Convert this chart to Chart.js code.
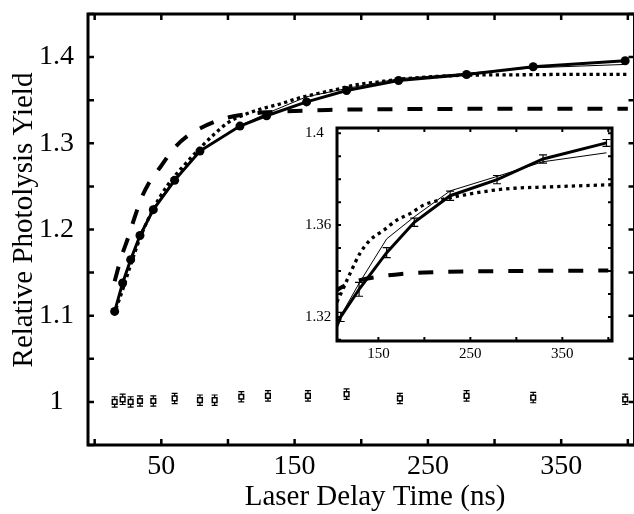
<!DOCTYPE html>
<html>
<head>
<meta charset="utf-8">
<script src="https://cdn.jsdelivr.net/npm/chart.js@4.4.1/dist/chart.umd.min.js"></script>
<style>
  html, body { margin:0; padding:0; background:#fff; overflow:hidden; }
  #wrap { position:relative; width:640px; height:514px; }
  #main { position:absolute; left:0; top:0; }
  #inset { position:absolute; left:290px; top:120px; }
</style>
</head>
<body>
<div id="wrap">
  <canvas id="main" width="640" height="514"></canvas>
  <canvas id="inset" width="330" height="252"></canvas>
</div>
<script>
// pump-probe data (filled circles), delay in ns
const delay     = [15, 21, 27, 34, 44, 60, 79, 109, 129, 159, 189, 228, 279, 329, 398];
const yieldPump = [1.105, 1.138, 1.165, 1.193, 1.223, 1.257, 1.291, 1.320, 1.332, 1.348, 1.3612, 1.3728, 1.3798, 1.3888, 1.3958];
const yieldErr  = [0.002, 0.002, 0.002, 0.002, 0.002, 0.002, 0.002, 0.002, 0.003, 0.0022, 0.0018, 0.002, 0.0018, 0.0018, 0.0015];
// thin model line, same delays
const modelThin = [1.105, 1.139, 1.167, 1.194, 1.225, 1.259, 1.292, 1.3205, 1.3346, 1.354, 1.3636, 1.3749, 1.3812, 1.3876, 1.3915];

// control, no pump (open squares)
const ctrlDelay = [15, 21, 27, 34, 44, 60, 79, 90, 110, 130, 160, 189, 229, 279, 329, 398];
const ctrlYield = [1.000, 1.003, 1.000, 1.001, 1.001, 1.004, 1.002, 1.002, 1.006, 1.007, 1.007, 1.009, 1.004, 1.007, 1.005, 1.003];
const ctrlErr   = [0.006, 0.006, 0.006, 0.006, 0.006, 0.006, 0.006, 0.006, 0.006, 0.006, 0.006, 0.006, 0.006, 0.006, 0.006, 0.006];

// dotted fit
const dotX = [16, 21, 27, 34, 44, 55, 68, 80, 90, 100, 112, 125, 140, 152, 165, 180, 195, 212, 230, 250, 280, 320, 360, 400];
const dotY = [1.108, 1.130, 1.159, 1.190, 1.224, 1.252, 1.276, 1.296, 1.311, 1.324, 1.333, 1.340, 1.346, 1.352, 1.357, 1.362, 1.3675, 1.371, 1.3745, 1.377, 1.379, 1.3795, 1.380, 1.380];
// dotted fit as read in the inset
const insetDotX = [105, 109, 120, 130, 141, 156, 170, 185, 199, 217, 243, 286, 340, 404];
const insetDotY = [1.3265, 1.330, 1.3396, 1.3477, 1.3535, 1.3578, 1.3622, 1.3651, 1.3687, 1.3709, 1.3731, 1.3757, 1.3767, 1.3776];

// dashed fit
const dashX = [15, 20, 25, 30, 35, 40, 50, 60, 70, 80, 90, 100, 115, 130, 150, 175, 200, 250, 300, 400];
const dashY = [1.140, 1.168, 1.190, 1.214, 1.236, 1.252, 1.274, 1.295, 1.309, 1.318, 1.325, 1.330, 1.334, 1.336, 1.3375, 1.3387, 1.3393, 1.3398, 1.340, 1.3402];

// axes
const mainXTicks  = [0, 50, 100, 150, 200, 250, 300, 350, 400];
const mainXLabels = [50, 150, 250, 350];
const mainYTicks  = [0.95, 1, 1.05, 1.1, 1.15, 1.2, 1.25, 1.3, 1.35, 1.4, 1.45];
const mainYLabels = [1, 1.1, 1.2, 1.3, 1.4];
const insetXTicks  = [150, 200, 250, 300, 350, 400];
const insetXLabels = [150, 250, 350];
const insetYTicks  = [1.31, 1.32, 1.33, 1.34, 1.35, 1.36, 1.37, 1.38, 1.39, 1.40];
const insetYLabels = [1.32, 1.36, 1.4];

const FONT = '"Liberation Serif", "Times New Roman", serif';

function pts(xs, ys){ return xs.map((x, i) => ({ x: x, y: ys[i] })); }
function setTicks(list){ return function(s){ s.ticks = list.map(v => ({ value: v })); }; }
function labelIf(list){ return function(v){ return list.some(l => Math.abs(l - v) < 1e-6) ? String(+v.toFixed(2)) : ''; }; }
// fixed axis size, and no extra room for half labels at the ends
function fitTo(prop, size){
  return function(s){ s[prop] = size; s.paddingTop = 0; s.paddingBottom = 0; s.paddingLeft = 0; s.paddingRight = 0; };
}

// frame + inward tick marks on all four sides
const framePlugin = {
  id: 'frame',
  afterDatasetsDraw(chart, args, o){
    const ctx = chart.ctx, a = chart.chartArea, x = chart.scales.x, y = chart.scales.y;
    ctx.save();
    ctx.strokeStyle = '#000';
    ctx.lineWidth = o.tickWidth;
    ctx.beginPath();
    x.ticks.forEach(t => {
      const px = x.getPixelForValue(t.value);
      ctx.moveTo(px, a.bottom); ctx.lineTo(px, a.bottom - o.tickLen);
      ctx.moveTo(px, a.top); ctx.lineTo(px, a.top + o.tickLen);
    });
    y.ticks.forEach(t => {
      const py = y.getPixelForValue(t.value);
      ctx.moveTo(a.left, py); ctx.lineTo(a.left + o.tickLen, py);
      ctx.moveTo(a.right, py); ctx.lineTo(a.right - o.tickLen, py);
    });
    ctx.stroke();
    ctx.lineWidth = o.width;
    ctx.strokeRect(a.left, a.top, a.right - a.left, a.bottom - a.top);
    ctx.restore();
  }
};

// error bars for datasets carrying an errors array
const errorBarPlugin = {
  id: 'errorBars',
  beforeDatasetsDraw(chart, args, o){
    const ctx = chart.ctx, a = chart.chartArea, x = chart.scales.x, y = chart.scales.y;
    ctx.save();
    ctx.beginPath(); ctx.rect(a.left, a.top, a.right - a.left, a.bottom - a.top); ctx.clip();
    ctx.strokeStyle = '#000';
    chart.data.datasets.forEach(ds => {
      if(!ds.errors) return;
      ctx.lineWidth = ds.errorWidth || 1;
      const cap = ds.errorCap || 3;
      ctx.beginPath();
      ds.data.forEach((p, i) => {
        const px = x.getPixelForValue(p.x);
        const y1 = y.getPixelForValue(p.y + ds.errors[i]), y2 = y.getPixelForValue(p.y - ds.errors[i]);
        ctx.moveTo(px, y1); ctx.lineTo(px, y2);
        ctx.moveTo(px - cap, y1); ctx.lineTo(px + cap, y1);
        ctx.moveTo(px - cap, y2); ctx.lineTo(px + cap, y2);
      });
      ctx.stroke();
    });
    ctx.restore();
  }
};

const axisTitlePlugin = {
  id: 'axisTitles',
  afterDraw(chart, args, o){
    const ctx = chart.ctx;
    ctx.save();
    ctx.fillStyle = '#000';
    ctx.font = o.size + 'px ' + FONT;
    ctx.textAlign = 'center';
    ctx.textBaseline = 'middle';
    ctx.fillText(o.xText, o.xPos[0], o.xPos[1]);
    ctx.translate(o.yPos[0], o.yPos[1]);
    ctx.rotate(-Math.PI / 2);
    ctx.fillText(o.yText, 0, 0);
    ctx.restore();
  }
};

const whiteAreaPlugin = {
  id: 'whiteArea',
  beforeDraw(chart){
    const a = chart.chartArea, ctx = chart.ctx;
    ctx.save(); ctx.fillStyle = '#fff';
    ctx.fillRect(a.left, a.top, a.right - a.left, a.bottom - a.top);
    ctx.restore();
  }
};

const lineBase = { showLine: true, pointRadius: 0, borderColor: '#000', fill: false, borderCapStyle: 'butt' };

new Chart(document.getElementById('main'), {
  type: 'scatter',
  data: { datasets: [
    Object.assign({}, lineBase, { data: pts(delay, yieldPump), borderWidth: 3, pointRadius: 4.5,
      pointBackgroundColor: '#000', pointBorderColor: '#000', pointBorderWidth: 0 }),
    Object.assign({}, lineBase, { data: pts(delay, modelThin), borderWidth: 1 }),
    { data: pts(ctrlDelay, ctrlYield), errors: ctrlErr, errorCap: 3, errorWidth: 1.2, showLine: false,
      pointStyle: 'rect', pointRadius: 3.3, pointBackgroundColor: '#fff', pointBorderColor: '#000', pointBorderWidth: 1.5 },
    Object.assign({}, lineBase, { data: pts(dotX, dotY), borderWidth: 3.3, borderDash: [3.3, 3.4], cubicInterpolationMode: 'monotone' }),
    Object.assign({}, lineBase, { data: pts(dashX, dashY), borderWidth: 4, borderDash: [15, 15], cubicInterpolationMode: 'monotone' })
  ]},
  options: {
    responsive: false, animation: false,
    layout: { padding: { left: 0, top: 14, right: 3, bottom: 0 } },
    plugins: {
      legend: { display: false }, tooltip: { enabled: false },
      frame: { width: 3, tickLen: 6, tickWidth: 2.5 },
      axisTitles: { size: 29, xText: 'Laser Delay Time (ns)', xPos: [375, 497],
                    yText: 'Relative Photolysis Yield', yPos: [24, 220] }
    },
    scales: {
      x: { type: 'linear', min: -5, max: 405, afterBuildTicks: setTicks(mainXTicks),
           afterFit: fitTo('height', 69),
           grid: { display: false }, border: { display: false },
           ticks: { callback: labelIf(mainXLabels), autoSkip: false, maxRotation: 0, color: '#000',
                    padding: -3, font: { family: FONT, size: 28 } } },
      y: { min: 0.95, max: 1.45, afterBuildTicks: setTicks(mainYTicks),
           afterFit: fitTo('width', 88),
           grid: { display: false }, border: { display: false },
           ticks: { callback: labelIf(mainYLabels), autoSkip: false, color: '#000', crossAlign: 'center',
                    padding: 6, font: { family: FONT, size: 28 } } }
    }
  },
  plugins: [errorBarPlugin, framePlugin, axisTitlePlugin]
});

new Chart(document.getElementById('inset'), {
  type: 'scatter',
  data: { datasets: [
    Object.assign({}, lineBase, { data: pts(delay, yieldPump), errors: yieldErr, errorCap: 4, errorWidth: 1.2, borderWidth: 3 }),
    Object.assign({}, lineBase, { data: pts(delay, modelThin), borderWidth: 1 }),
    Object.assign({}, lineBase, { data: pts(insetDotX, insetDotY), borderWidth: 3.3, borderDash: [3.3, 4], cubicInterpolationMode: 'monotone' }),
    Object.assign({}, lineBase, { data: pts(dashX, dashY), borderWidth: 4, borderDash: [15, 15], cubicInterpolationMode: 'monotone' })
  ]},
  options: {
    responsive: false, animation: false,
    layout: { padding: { left: 15, top: 8, right: 8, bottom: 0 } },
    plugins: {
      legend: { display: false }, tooltip: { enabled: false },
      frame: { width: 3, tickLen: 4, tickWidth: 2 }
    },
    scales: {
      x: { type: 'linear', min: 105, max: 404, afterBuildTicks: setTicks(insetXTicks),
           afterFit: fitTo('height', 31),
           grid: { display: false }, border: { display: false },
           ticks: { callback: labelIf(insetXLabels), autoSkip: false, maxRotation: 0, color: '#000',
                    padding: -4, font: { family: FONT, size: 15 } } },
      y: { min: 1.3095, max: 1.4023, afterBuildTicks: setTicks(insetYTicks),
           afterFit: fitTo('width', 32),
           grid: { display: false }, border: { display: false },
           ticks: { callback: labelIf(insetYLabels), autoSkip: false, color: '#000', crossAlign: 'far',
                    padding: 6, font: { family: FONT, size: 15 } } }
    }
  },
  plugins: [whiteAreaPlugin, errorBarPlugin, framePlugin]
});
</script>
</body>
</html>
